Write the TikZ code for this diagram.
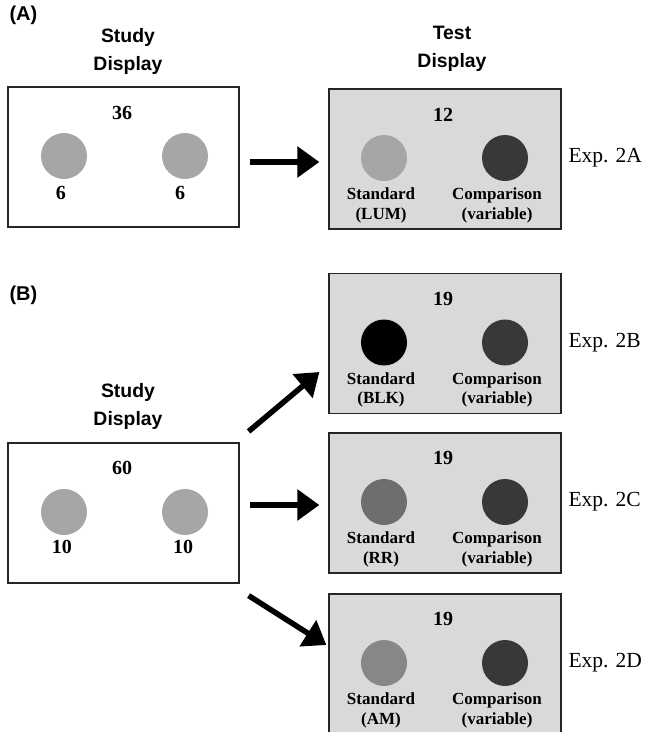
\documentclass[tikz,border=0pt]{standalone}
\usepackage{fontspec}
\setmainfont{Liberation Serif}
\setsansfont{Liberation Sans}
\usetikzlibrary{arrows.meta}

\definecolor{panelfill}{gray}{0.85}
\definecolor{discgray}{gray}{0.65}
\definecolor{compdark}{gray}{0.22}
\definecolor{rrgray}{gray}{0.43}
\definecolor{amgray}{gray}{0.53}

\begin{document}
\begin{tikzpicture}[x=1pt,y=1pt,
    panel/.style={draw=black!85, line width=1.2pt, minimum width=231pt, minimum height=140pt, inner sep=0pt},
    testpanel/.style={panel, fill=panelfill, minimum width=232pt},
    disc/.style={circle, minimum size=46pt, inner sep=0pt},
    num/.style={font=\bfseries\fontsize{20}{22}\selectfont},
    lab/.style={font=\bfseries\fontsize{17}{19.5}\selectfont, align=center},
    head/.style={font=\sffamily\bfseries\fontsize{19.4}{28}\selectfont, align=center},
    tag/.style={font=\sffamily\bfseries\fontsize{20}{24}\selectfont, anchor=west},
    expname/.style={font=\fontsize{21.5}{24}\selectfont, anchor=west},
    bigarrow/.style={line width=5.5pt, -{Triangle[length=22pt,width=30pt]}}]
  \useasboundingbox (0,0) rectangle (645,-732);

  % (A)
  \node[tag] (tagA) at (6,-15) {(A)};
  \node[head] (studyheadA) at (128,-51) {Study\\Display};
  \node[head] (testheadA) at (452,-49) {Test\\Display};

  \node[panel] (studyA) at (123.5,-157) {};
  \node[num] (totalA) at (122,-113) {36};
  \node[disc, fill=discgray] (leftA) at (64,-156) {};
  \node[disc, fill=discgray] (rightA) at (185,-156) {};
  \node[num] (leftnumA) at (61,-193) {6};
  \node[num] (rightnumA) at (180,-193) {6};

  \node[testpanel] (testA) at (445,-159) {};
  \node[num] (testtotalA) at (443,-115) {12};
  \node[disc, fill=discgray] (stdA) at (384,-158) {};
  \node[disc, fill=compdark] (compA) at (505,-158) {};
  \node[lab] (stdlabA) at (381,-205.5) {Standard\\(LUM)};
  \node[lab] (complabA) at (497,-205.5) {Comparison\\(variable)};
  \node[expname] (expA) at (565,-158) {Exp. 2A};

  \draw[bigarrow, shorten <=10pt, shorten >=9pt] ([yshift=-5pt]studyA.east) -- ([yshift=-3pt]testA.west);

  % (B)
  \node[tag] (tagB) at (6,-295) {(B)};
  \node[head] (studyheadB) at (128,-406) {Study\\Display};

  \node[panel] (studyB) at (123.5,-513) {};
  \node[num] (totalB) at (122,-468) {60};
  \node[disc, fill=discgray] (leftB) at (64,-512) {};
  \node[disc, fill=discgray] (rightB) at (185,-512) {};
  \node[num] (leftnumB) at (62,-547) {10};
  \node[num] (rightnumB) at (183,-547) {10};

  \foreach \name/\y/\col/\std in {B/-343.5/black/BLK, C/-503/rrgray/RR, D/-664/amgray/AM}{
    \node[testpanel] (test\name) at (445,\y) {};
    \node[num] (testtotal\name) at (443,\y+45) {19};
    \node[disc, fill=\col] (std\name) at (384,\y+1) {};
    \node[disc, fill=compdark] (comp\name) at (505,\y+1) {};
    \node[lab] (stdlab\name) at (381,\y-46.5) {Standard\\(\std)};
    \node[lab] (complab\name) at (497,\y-46.5) {Comparison\\(variable)};
    \node[expname] (exp\name) at (565,\y+1) {Exp. 2\name};
  }

  \draw[bigarrow] ([shift={(9pt,11pt)}]studyB.north east) -- ([shift={(-9pt,-28.5pt)}]testB.west);
  \draw[bigarrow, shorten <=10pt, shorten >=9pt] ([yshift=8pt]studyB.east) -- ([yshift=-2pt]testC.west);
  \draw[bigarrow] ([shift={(9pt,-12pt)}]studyB.south east) -- ([shift={(-2pt,19pt)}]testD.west);
\end{tikzpicture}
\end{document}
